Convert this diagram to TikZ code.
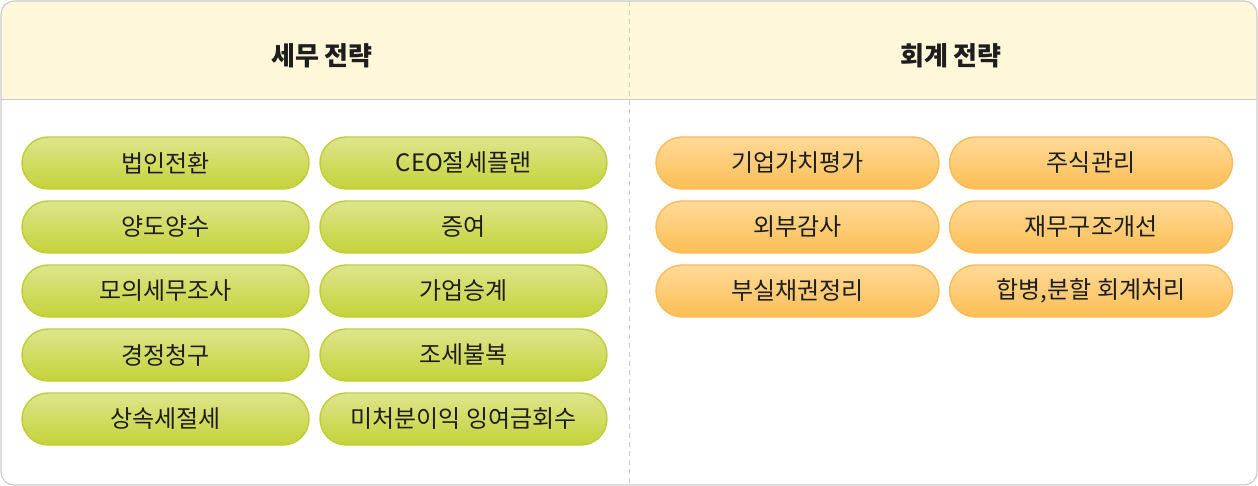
\documentclass[tikz,border=0pt]{standalone}
\usepackage{fontspec}
\setmainfont{Noto Sans CJK KR}
\usetikzlibrary{positioning}
\definecolor{headcream}{RGB}{254,247,218}
\definecolor{frameline}{RGB}{204,204,204}
\definecolor{taxtop}{RGB}{222,229,140}
\definecolor{taxbot}{RGB}{196,211,56}
\definecolor{taxline}{RGB}{190,205,58}
\definecolor{acctop}{RGB}{255,218,153}
\definecolor{accbot}{RGB}{251,190,84}
\definecolor{accline}{RGB}{248,188,90}
\definecolor{inkgray}{RGB}{30,30,30}

\begin{document}
\begin{tikzpicture}[
  x=1pt,y=-1pt,
  head/.style={font=\fontsize{26}{30}\selectfont\bfseries,text=inkgray,inner sep=0pt},
  pill/.style={rounded corners=26pt,minimum height=52pt,line width=1.4pt,outer sep=0pt,
    font=\fontsize{24}{28}\selectfont,text=inkgray,inner sep=0pt},
  tax/.style={pill,draw=taxline,top color=taxtop,bottom color=taxbot,minimum width=287pt},
  acc/.style={pill,draw=accline,top color=acctop,bottom color=accbot,minimum width=283pt}
]
\useasboundingbox (0,0) rectangle (1258,486);
% ---------------- frame and header band ----------------
\begin{scope}
  \clip[rounded corners=13pt] (1,1) rectangle (1257,485);
  \fill[headcream] (0,0) rectangle (1258,100);
\end{scope}
\draw[frameline,line width=1pt] (1,100) -- (1257,100);
\draw[frameline,line width=1pt,dash pattern=on 5pt off 4pt] (629,1) -- (629,485);
\draw[frameline,line width=1.2pt,rounded corners=13pt] (1,1) rectangle (1257,485);
\node[head] (taxhead) at (322,56) {세무 전략};
\node[head] (acchead) at (951,56) {회계 전략};
% ---------------- tax strategy pills ----------------
\node[tax] (t1) at (165.5,163) {법인전환};
\node[tax,below=12pt of t1] (t2) {양도양수};
\node[tax,below=12pt of t2] (t3) {모의세무조사};
\node[tax,below=12pt of t3] (t4) {경정청구};
\node[tax,below=12pt of t4] (t5) {상속세절세};
\node[tax] (t6) at (463.5,163) {CEO절세플랜};
\node[tax,below=12pt of t6] (t7) {증여};
\node[tax,below=12pt of t7] (t8) {가업승계};
\node[tax,below=12pt of t8] (t9) {조세불복};
\node[tax,below=12pt of t9] (t10) {미처분이익 잉여금회수};
% ---------------- accounting strategy pills ----------------
\node[acc] (a1) at (797.5,163) {기업가치평가};
\node[acc,below=12pt of a1] (a2) {외부감사};
\node[acc,below=12pt of a2] (a3) {부실채권정리};
\node[acc] (a4) at (1091,163) {주식관리};
\node[acc,below=12pt of a4] (a5) {재무구조개선};
\node[acc,below=12pt of a5] (a6) {합병,분할 회계처리};
\end{tikzpicture}
\end{document}
